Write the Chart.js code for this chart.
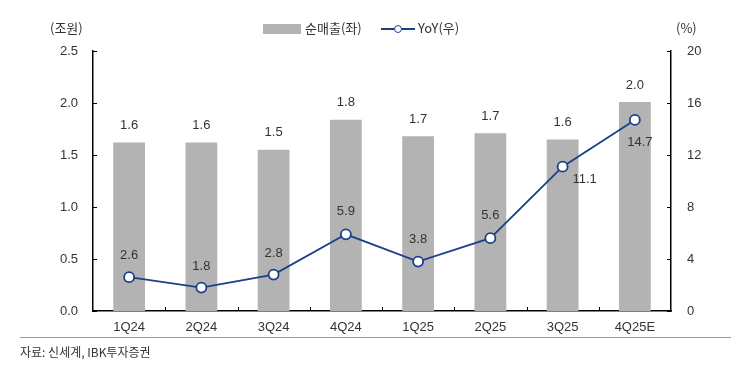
<!DOCTYPE html>
<html>
<head>
<meta charset="utf-8">
<script src="https://cdn.jsdelivr.net/npm/chart.js@4.4.0/dist/chart.umd.min.js"></script>
<style>
  body { margin: 0; background: #fff; font-family: "Noto Sans CJK KR", "Liberation Sans", sans-serif; color: #333; }
  #wrap { position: relative; width: 740px; height: 366px; overflow: hidden; }
  canvas { position: absolute; left: 0; top: 0; }
  .t { position: absolute; font-size: 13px; line-height: 1; white-space: nowrap; }
  #rule { position: absolute; left: 20px; top: 337px; width: 711px; height: 0; border-top: 1.5px solid #9a9a9a; }
</style>
</head>
<body>
<div id="wrap">
  <canvas id="c" width="740" height="366"></canvas>
  <div class="t" style="left:50px;top:21px;">(조원)</div>
  <div class="t" style="left:676px;top:21px;">(%)</div>
  <div class="t" style="left:263px;top:21px;"><span style="display:inline-block;width:38px;height:10px;background:#b3b3b3;vertical-align:-1px;margin-right:4px;"></span>순매출(좌)</div>
  <div class="t" style="left:381px;top:21px;"><span style="display:inline-block;position:relative;width:34px;height:10px;vertical-align:-1px;margin-right:3px;"><span style="position:absolute;left:0;top:4px;width:34px;height:2px;background:#1c3f8c;"></span><span style="position:absolute;left:13px;top:1px;width:6px;height:6px;border:1.5px solid #1c3f8c;border-radius:50%;background:#fff;"></span></span>YoY(우)</div>
  <div id="rule"></div>
  <div class="t" style="left:20px;top:346px;font-size:12px;">자료: 신세계, IBK투자증권</div>
</div>
<script>
// chart data
const quarters = ['1Q24', '2Q24', '3Q24', '4Q24', '1Q25', '2Q25', '3Q25', '4Q25E'];
const sales = [1.62, 1.62, 1.55, 1.84, 1.68, 1.71, 1.65, 2.01];
const salesLabels = ['1.6', '1.6', '1.5', '1.8', '1.7', '1.7', '1.6', '2.0'];
const yoy = [2.6, 1.8, 2.8, 5.9, 3.8, 5.6, 11.1, 14.7];

// label placement for the yoy line (dx, dy from the point)
const yoyLabelOffsets = [[0, -22], [0, -21], [0, -21], [0, -23], [0, -22], [0, -23], [22, 13], [5, 23]];

const BLUE = '#1c3f8c';

// value labels over bars and points
const valueLabels = {
  id: 'valueLabels',
  afterDatasetsDraw(chart) {
    const { ctx } = chart;
    ctx.save();
    ctx.font = '13px "Liberation Sans", sans-serif';
    ctx.fillStyle = '#333';
    ctx.textAlign = 'center';
    ctx.textBaseline = 'middle';
    // dataset 1 = bars, dataset 0 = line
    chart.getDatasetMeta(1).data.forEach((bar, i) => {
      ctx.fillText(salesLabels[i], bar.x, bar.y - 17);
    });
    chart.getDatasetMeta(0).data.forEach((pt, i) => {
      const [dx, dy] = yoyLabelOffsets[i];
      ctx.fillText(yoy[i].toFixed(1), pt.x + dx, pt.y + dy);
    });
    ctx.restore();
  }
};

// small inward tick marks like the original
const innerTicks = {
  id: 'innerTicks',
  afterDraw(chart) {
    const { ctx, chartArea: a, scales } = chart;
    ctx.save();
    ctx.strokeStyle = '#000';
    ctx.lineWidth = 1;
    ctx.beginPath();
    scales.y.ticks.forEach((t, i) => {
      const y = Math.round(scales.y.getPixelForTick(i)) + 0.5;
      ctx.moveTo(a.left, y); ctx.lineTo(a.left + 4, y);
    });
    scales.y1.ticks.forEach((t, i) => {
      const y = Math.round(scales.y1.getPixelForTick(i)) + 0.5;
      ctx.moveTo(a.right, y); ctx.lineTo(a.right - 4, y);
    });
    const step = (a.right - a.left) / quarters.length;
    for (let i = 1; i < quarters.length; i++) {
      const x = Math.round(a.left + i * step) + 0.5;
      ctx.moveTo(x, a.bottom); ctx.lineTo(x, a.bottom - 4);
    }
    ctx.stroke();
    ctx.restore();
  }
};

new Chart(document.getElementById('c'), {
  data: {
    labels: quarters,
    datasets: [
      {
        type: 'line',
        label: 'YoY(우)',
        data: yoy,
        yAxisID: 'y1',
        borderColor: BLUE,
        borderWidth: 1.8,
        pointRadius: 5,
        pointBorderWidth: 1.8,
        pointBackgroundColor: '#fff',
        pointBorderColor: BLUE,
        tension: 0,
        order: 0
      },
      {
        type: 'bar',
        label: '순매출(좌)',
        data: sales,
        yAxisID: 'y',
        backgroundColor: '#b3b3b3',
        barPercentage: 0.44,
        categoryPercentage: 1,
        order: 1
      }
    ]
  },
  options: {
    responsive: false,
    animation: false,
    layout: { padding: { top: 51, bottom: 30, left: 0, right: 0 } },
    plugins: { legend: { display: false }, tooltip: { enabled: false } },
    scales: {
      x: {
        grid: { display: false, drawTicks: false },
        border: { display: true, color: '#000', width: 1.5 },
        ticks: { color: '#333', padding: 9, font: { size: 13, family: '"Liberation Sans", sans-serif' } },
        afterFit(s) { s.height = 25; }
      },
      y: {
        position: 'left',
        min: 0, max: 2.5,
        grid: { display: false, drawTicks: false },
        border: { display: true, color: '#000', width: 1.5 },
        ticks: { stepSize: 0.5, color: '#333', padding: 15, font: { size: 13, family: '"Liberation Sans", sans-serif' },
                 callback: v => v.toFixed(1) },
        afterFit(s) { s.width = 93; }
      },
      y1: {
        position: 'right',
        min: 0, max: 20,
        grid: { display: false, drawTicks: false },
        border: { display: true, color: '#000', width: 1.5 },
        ticks: { stepSize: 4, color: '#333', padding: 16, font: { size: 13, family: '"Liberation Sans", sans-serif' } },
        afterFit(s) { s.width = 69; }
      }
    }
  },
  plugins: [valueLabels, innerTicks]
});
</script>
</body>
</html>
